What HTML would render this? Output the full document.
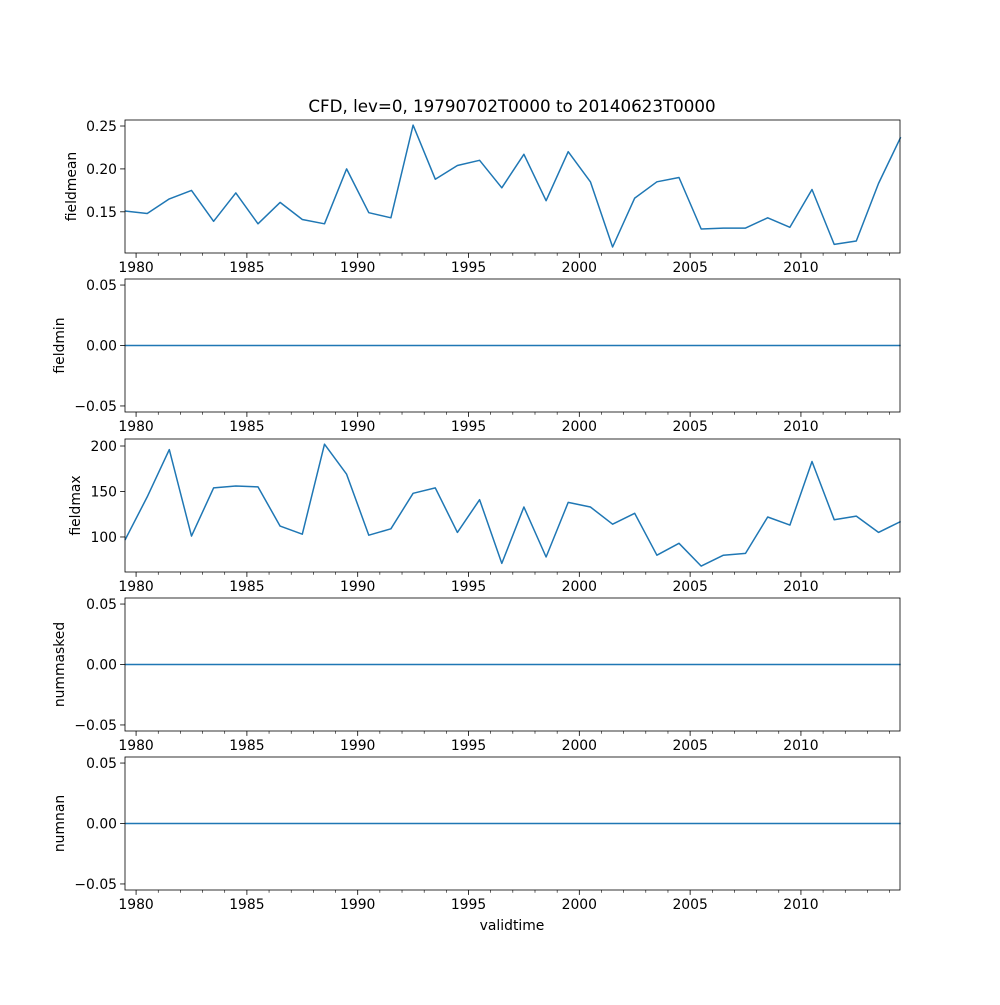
<!DOCTYPE html>
<html><head><meta charset="utf-8"><style>
html,body{margin:0;padding:0;background:#fff}
svg text{font-family:"DejaVu Sans","Liberation Sans",sans-serif;fill:#000}
</style></head><body>
<svg id="chart" width="1000" height="1000" xmlns="http://www.w3.org/2000/svg"></svg>
<script>
const startYear = 1979.5;
const fieldmean = [0.151,0.148,0.165,0.175,0.139,0.172,0.136,0.161,0.141,0.136,0.200,0.149,0.143,0.251,0.188,0.204,0.210,0.178,0.217,0.163,0.220,0.185,0.109,0.166,0.185,0.190,0.130,0.131,0.131,0.143,0.132,0.176,0.112,0.116,0.183,0.237];
const fieldmin = new Array(36).fill(0);
const fieldmax = [96.7,144,196,101,154,156,155,112,103,202,169,102,109,148,154,105,141,71,133,78,138,133,114,126,80,93,68,80,82,122,113,183,119,123,105,117];
const nummasked = new Array(36).fill(0);
const numnan = new Array(36).fill(0);
const xTickLabels = [1980,1985,1990,1995,2000,2005,2010];
const meanTicks = [0.15,0.20,0.25];
const maxTicks = [100,150,200];
const zeroTicks = [-0.05,0.00,0.05];

const svg = document.getElementById('chart');
const NS = 'http://www.w3.org/2000/svg';
function mk(tag, attrs, parent){const e=document.createElementNS(NS,tag);for(const k in attrs)e.setAttribute(k,attrs[k]);(parent||svg).appendChild(e);return e;}
const X0=125, X1=900, xmin=1979.5, xmax=2014.47;
const xs = v => X0 + (v-xmin)/(xmax-xmin)*(X1-X0);
const f2 = v => (v<0?'\u2212':'')+Math.abs(v).toFixed(2);

const panels = [
 {name:'fieldmean', data:fieldmean, top:120, bot:253, ymin:0.102, ymax:0.257, ticks:meanTicks, fmt:f2, lx:71},
 {name:'fieldmin', data:fieldmin, top:279, bot:412, ymin:-0.055, ymax:0.055, ticks:zeroTicks, fmt:f2, lx:59},
 {name:'fieldmax', data:fieldmax, top:439, bot:572, ymin:61.5, ymax:207.7, ticks:maxTicks, fmt:v=>String(v), lx:75},
 {name:'nummasked', data:nummasked, top:598, bot:731, ymin:-0.055, ymax:0.055, ticks:zeroTicks, fmt:f2, lx:59},
 {name:'numnan', data:numnan, top:757, bot:890, ymin:-0.055, ymax:0.055, ticks:zeroTicks, fmt:f2, lx:59}
];

panels.forEach(p=>{
  const g = mk('g',{});
  
  
  const ys = v => p.bot - (v-p.ymin)/(p.ymax-p.ymin)*(p.bot-p.top);
  const pts = p.data.map((v,i)=>xs(startYear+i).toFixed(1)+','+ys(v).toFixed(1)).join(' ');
  const line = mk('polyline',{points:pts,fill:'none',stroke:'#1f77b4','stroke-width':1.5,'stroke-linejoin':'round'},g);
  
  
  const fr = mk('rect',{x:X0,y:p.top,width:X1-X0,height:p.bot-p.top,fill:'none',stroke:'#000','stroke-width':0.8},g);
  
  
  for(let y=1980;y<=2014;y++){
    const x=xs(y); const major = y%5===0;
    mk('line',{x1:x,x2:x,y1:p.bot,y2:p.bot+(major?4.9:2.8),stroke:'#000','stroke-width':major?0.8:0.6},g);
  }
  xTickLabels.forEach(y=>{
    const t=mk('text',{x:xs(y),y:p.bot+19,'text-anchor':'middle','font-size':13.9},g);
    t.textContent=y;
    
    
  });
  p.ticks.forEach(v=>{
    const y=ys(v);
    mk('line',{x1:X0-4.9,x2:X0,y1:y,y2:y,stroke:'#000','stroke-width':0.8},g);
    const t=mk('text',{x:X0-8,y:y+5,'text-anchor':'end','font-size':13.9},g);
    t.textContent=p.fmt(v);
    
    
  });
  const cy=(p.top+p.bot)/2;
  const lab=mk('text',{x:0,y:0,transform:`translate(${p.lx+5},${cy}) rotate(-90)`,'text-anchor':'middle','font-size':13.9},g);
  lab.textContent=p.name;
  
  
});
const title=mk('text',{x:512,y:112,'text-anchor':'middle','font-size':16.7});
title.textContent='CFD, lev=0, 19790702T0000 to 20140623T0000';


const xl=mk('text',{x:512,y:930,'text-anchor':'middle','font-size':13.9});
xl.textContent='validtime';


</script>
</body></html>
